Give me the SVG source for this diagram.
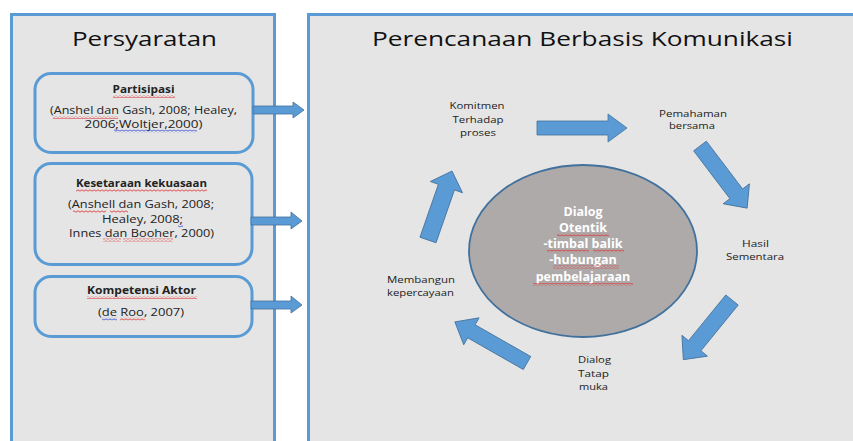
<svg xmlns="http://www.w3.org/2000/svg" width="853" height="441" viewBox="0 0 853 441">
<defs>
<pattern id="wavyRed" patternUnits="userSpaceOnUse" width="4" height="3">
<path d="M0,2.2 L2,0.8 L4,2.2" fill="none" stroke="#e02828" stroke-width="0.8"/>
</pattern>
<pattern id="wavyBlue" patternUnits="userSpaceOnUse" width="4" height="3">
<path d="M0,2.2 L2,0.8 L4,2.2" fill="none" stroke="#2a3fd0" stroke-width="0.8"/>
</pattern>
</defs>
<style>
.panel{fill:#e5e5e5;stroke:#5b9bd5;stroke-width:3}
.box{fill:#e5e5e5;stroke:#5b9bd5;stroke-width:3}
.title{font-family:"Open Sans","Noto Sans",sans-serif;font-size:20.5px;fill:#111;text-anchor:middle}
.bt{font-family:"Open Sans","Noto Sans",sans-serif;font-size:11px;fill:#222;text-anchor:middle}
.bs{font-family:"Open Sans","Noto Sans",sans-serif;font-size:10.5px;fill:#222;text-anchor:middle}
.bh{font-family:"Open Sans","Noto Sans",sans-serif;font-size:11px;font-weight:bold;fill:#222;text-anchor:middle}
.lbl{font-family:"Open Sans","Noto Sans",sans-serif;font-size:9.8px;fill:#222;text-anchor:middle}
.ct{font-family:"Open Sans","Noto Sans",sans-serif;font-size:12.5px;font-weight:bold;fill:#fff;text-anchor:middle}
.arr{fill:#5b9bd5;stroke:#41719c;stroke-width:0.8}
.wr{fill:url(#wavyRed)}
.wb{fill:url(#wavyBlue)}
</style>
<rect width="853" height="441" fill="#ffffff"/>
<g id="panel-persyaratan">
<rect class="panel" x="11.5" y="14.5" width="263" height="440"/>
<text class="title" x="144.5" y="46" textLength="145" lengthAdjust="spacingAndGlyphs">Persyaratan</text>
</g>
<g id="panel-perencanaan">
<rect class="panel" x="308.5" y="14.5" width="560" height="440"/>
<text class="title" x="582.5" y="46" textLength="421" lengthAdjust="spacingAndGlyphs">Perencanaan Berbasis Komunikasi</text>
</g>
<g id="box-partisipasi">
<rect class="box" x="35" y="73.5" width="218" height="79" rx="16"/>
<text class="bh" x="143.5" y="93" textLength="62" lengthAdjust="spacingAndGlyphs">Partisipasi</text>
<text class="bs" x="143.5" y="114" textLength="187" lengthAdjust="spacingAndGlyphs">(Anshel dan Gash, 2008; Healey,</text>
<text class="bs" x="143.5" y="128" textLength="118" lengthAdjust="spacingAndGlyphs">2006;Woltjer,2000)</text>
<rect class="wr" x="113" y="95" width="62" height="3"/>
<rect class="wr" x="53" y="116" width="65" height="3"/>
<rect class="wb" x="114" y="129.5" width="83" height="3"/>
</g>
<g id="box-kesetaraan">
<rect class="box" x="35" y="163.5" width="217" height="101" rx="16"/>
<text class="bh" x="141.5" y="187" textLength="131" lengthAdjust="spacingAndGlyphs">Kesetaraan kekuasaan</text>
<text class="bt" x="141" y="208" textLength="146" lengthAdjust="spacingAndGlyphs">(Anshell dan Gash, 2008;</text>
<text class="bt" x="142.5" y="223" textLength="81" lengthAdjust="spacingAndGlyphs">Healey, 2008;</text>
<text class="bt" x="141.5" y="237" textLength="145" lengthAdjust="spacingAndGlyphs">Innes dan Booher, 2000)</text>
<rect class="wr" x="76" y="189" width="131" height="3"/>
<rect class="wr" x="73" y="210" width="33" height="3"/>
<rect class="wr" x="110" y="210" width="18" height="3"/>
<rect class="wb" x="178" y="224.5" width="5" height="3"/>
<rect class="wr" x="103" y="238.5" width="18" height="3"/>
<rect class="wr" x="123" y="238.5" width="50" height="3"/>
</g>
<g id="box-kompetensi">
<rect class="box" x="35" y="276.5" width="217" height="60" rx="16"/>
<text class="bh" x="141.5" y="294" textLength="109" lengthAdjust="spacingAndGlyphs">Kompetensi Aktor</text>
<text class="bt" x="141" y="316" textLength="86" lengthAdjust="spacingAndGlyphs">(de Roo, 2007)</text>
<rect class="wr" x="87" y="296" width="110" height="3"/>
<rect class="wb" x="102" y="317.5" width="15" height="3"/>
<rect class="wr" x="120" y="317.5" width="25" height="3"/>
</g>
<g id="center-dialog">
<ellipse cx="583" cy="251" rx="114" ry="86" fill="#aeaaaa" stroke="#41719c" stroke-width="1.8"/>
<text class="ct" x="583" y="216">Dialog</text>
<text class="ct" x="583" y="232">Otentik</text>
<text class="ct" x="583" y="248">-timbal balik</text>
<text class="ct" x="583" y="264">-hubungan</text>
<text class="ct" x="583" y="281">pembelajaraan</text>
<rect class="wr" x="557" y="233.5" width="52" height="3"/>
<rect class="wr" x="547" y="249.5" width="42" height="3"/>
<rect class="wr" x="593" y="249.5" width="31" height="3"/>
<rect class="wr" x="553" y="265.5" width="66" height="3"/>
<rect class="wr" x="533" y="283" width="100" height="3"/>
</g>
<g id="label-komitmen">
<text class="lbl" x="477" y="109" textLength="55" lengthAdjust="spacingAndGlyphs">Komitmen</text>
<text class="lbl" x="478" y="123" textLength="51" lengthAdjust="spacingAndGlyphs">Terhadap</text>
<text class="lbl" x="478" y="136" textLength="36" lengthAdjust="spacingAndGlyphs">proses</text>
</g>
<g id="label-pemahaman">
<text class="lbl" x="693" y="117" textLength="68" lengthAdjust="spacingAndGlyphs">Pemahaman</text>
<text class="lbl" x="692" y="129" textLength="46" lengthAdjust="spacingAndGlyphs">bersama</text>
</g>
<g id="label-hasil">
<text class="lbl" x="755.5" y="247" textLength="27" lengthAdjust="spacingAndGlyphs">Hasil</text>
<text class="lbl" x="755" y="260" textLength="58" lengthAdjust="spacingAndGlyphs">Sementara</text>
</g>
<g id="label-dialog-tatap">
<text class="lbl" x="594.5" y="363" textLength="33" lengthAdjust="spacingAndGlyphs">Dialog</text>
<text class="lbl" x="593.5" y="377" textLength="31" lengthAdjust="spacingAndGlyphs">Tatap</text>
<text class="lbl" x="593.5" y="390" textLength="29" lengthAdjust="spacingAndGlyphs">muka</text>
</g>
<g id="label-membangun">
<text class="lbl" x="421" y="283" textLength="68" lengthAdjust="spacingAndGlyphs">Membangun</text>
<text class="lbl" x="420.5" y="296" textLength="67" lengthAdjust="spacingAndGlyphs">kepercayaan</text>
</g>
<g id="connectors">
<polygon class="arr" points="253,106 293,106 293,102 304,110 293,118 293,114 253,114"/>
<polygon class="arr" points="251,217 291,217 291,212 302,221 291,229 291,225 251,225"/>
<polygon class="arr" points="251,301 291,301 291,296 302,305 291,313 291,309 251,309"/>
<polygon class="arr" points="0,-7 71,-7 71,-14 90,0 71,14 71,7 0,7" transform="translate(537,128)"/>
<polygon class="arr" points="0,-8 60,-8 60,-16.5 78,0 60,16.5 60,8 0,8" transform="translate(700,146) rotate(52.8)"/>
<polygon class="arr" points="0,-8 59,-8 59,-16.5 77,0 59,16.5 59,8 0,8" transform="translate(732,300) rotate(129.2)"/>
<polygon class="arr" points="0,-7.5 64,-7.5 64,-15.5 83,0 64,15.5 64,7.5 0,7.5" transform="translate(527,363) rotate(-150.3)"/>
<polygon class="arr" points="0,-8.5 56,-8.5 56,-17 73,0 56,17 56,8.5 0,8.5" transform="translate(428,240) rotate(-70.8)"/>
</g>
</svg>
